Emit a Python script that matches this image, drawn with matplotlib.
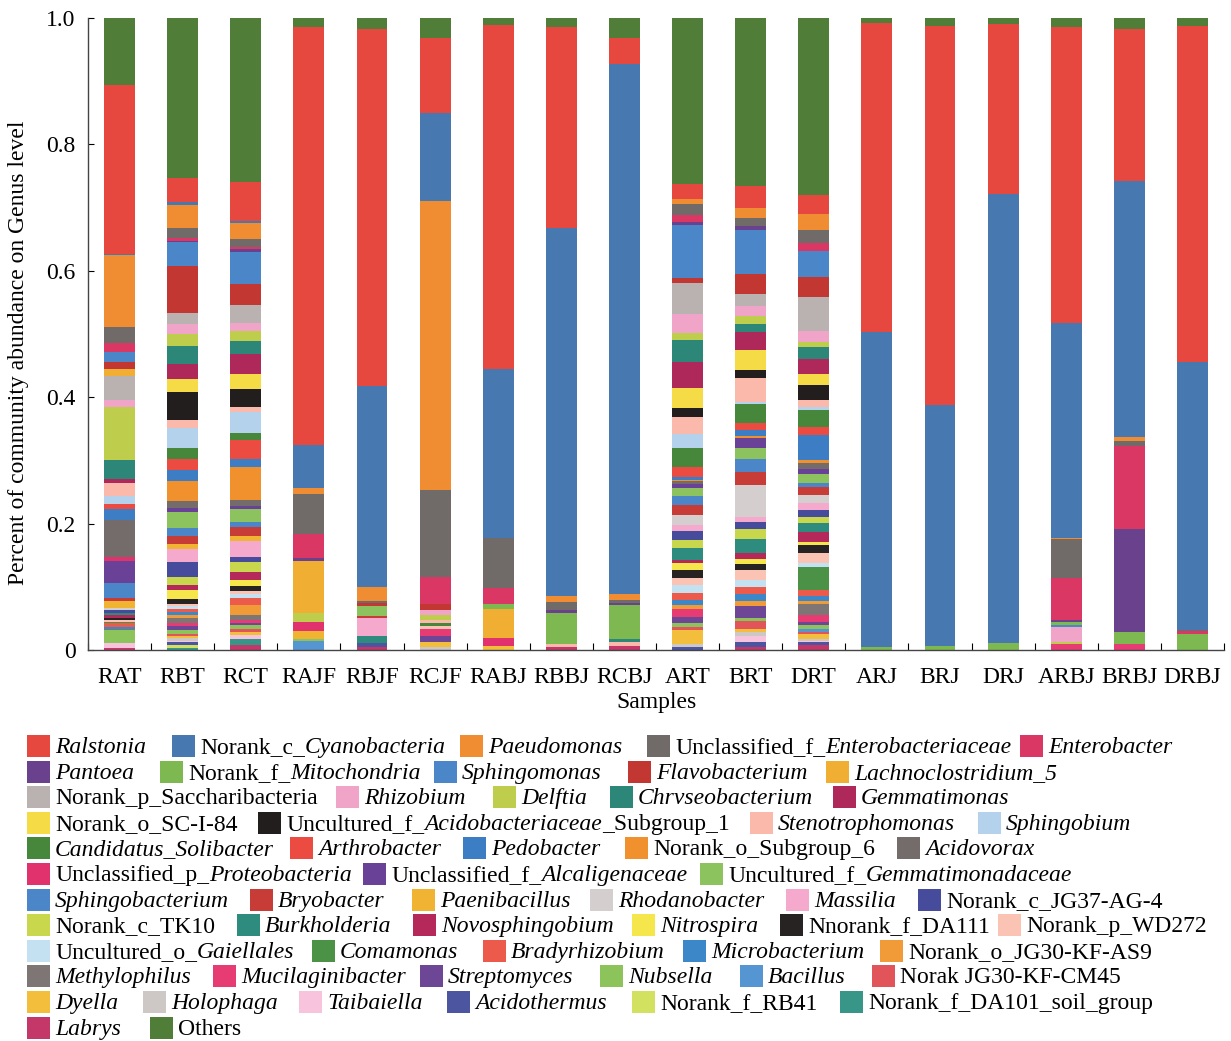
import numpy as np
import matplotlib.pyplot as plt
from matplotlib.patches import Rectangle

plt.rcParams['font.family'] = ['Liberation Serif', 'DejaVu Serif']
plt.rcParams['font.size'] = 17

W, H = 1231, 1041

samples = ['RAT', 'RBT', 'RCT', 'RAJF', 'RBJF', 'RCJF', 'RABJ', 'RBBJ', 'RCBJ',
           'ART', 'BRT', 'DRT', 'ARJ', 'BRJ', 'DRJ', 'ARBJ', 'BRBJ', 'DRBJ']

# *...* marks the italic part of a name
genera = ['*Ralstonia*', 'Norank_c_*Cyanobacteria*', '*Paeudomonas*',
          'Unclassified_f_*Enterobacteriaceae*', '*Enterobacter*',
          '*Pantoea*', 'Norank_f_*Mitochondria*', '*Sphingomonas*',
          '*Flavobacterium*', '*Lachnoclostridium_5*',
          'Norank_p_Saccharibacteria', '*Rhizobium*', '*Delftia*',
          '*Chrvseobacterium*', '*Gemmatimonas*',
          'Norank_o_SC-I-84', 'Uncultured_f_*Acidobacteriaceae*_Subgroup_1',
          '*Stenotrophomonas*', '*Sphingobium*',
          '*Candidatus_Solibacter*', '*Arthrobacter*', '*Pedobacter*',
          'Norank_o_Subgroup_6', '*Acidovorax*',
          'Unclassified_p_*Proteobacteria*', 'Unclassified_f_*Alcaligenaceae*',
          'Uncultured_f_*Gemmatimonadaceae*',
          '*Sphingobacterium*', '*Bryobacter*', '*Paenibacillus*',
          '*Rhodanobacter*', '*Massilia*', 'Norank_c_JG37-AG-4',
          'Norank_c_TK10', '*Burkholderia*', '*Novosphingobium*',
          '*Nitrospira*', 'Nnorank_f_DA111', 'Norank_p_WD272',
          'Uncultured_o_*Gaiellales*', '*Comamonas*', '*Bradyrhizobium*',
          '*Microbacterium*', 'Norank_o_JG30-KF-AS9',
          '*Methylophilus*', '*Mucilaginibacter*', '*Streptomyces*',
          '*Nubsella*', '*Bacillus*', 'Norak JG30-KF-CM45',
          '*Dyella*', '*Holophaga*', '*Taibaiella*', '*Acidothermus*',
          'Norank_f_RB41', 'Norank_f_DA101_soil_group',
          '*Labrys*', 'Others']

colors = ['#e64840', '#4878b0', '#f08c32', '#706a68', '#da3764',
          '#69418c', '#7db950', '#4b87c8', '#c33732', '#f0af32',
          '#b9b2b0', '#f0a5c8', '#becd4b', '#2d8778', '#af285a',
          '#f5dc46', '#231e1e', '#fab9aa', '#b4d2eb',
          '#46873c', '#eb4b41', '#3c7dc3', '#f0912d', '#736c6a',
          '#e1326e', '#694196', '#8cc35f',
          '#4b87c8', '#c83c37', '#f0b432', '#d4cfce', '#f5aacd', '#464b9b',
          '#c8d74b', '#2d8c7d', '#b4285a', '#f5e64b', '#282323', '#fac3b4',
          '#c3e1f0', '#4b9146', '#eb5a4b', '#3c87c8', '#f09b37',
          '#7d7674', '#e63c73', '#6e4696', '#8cc35a', '#5596d2', '#e1555a',
          '#f2be3c', '#cdc8c6', '#f8c3dc', '#4b55a0', '#d2e15f', '#379687',
          '#c33769', '#507d37']

# relative abundance per sample, in legend order (last value = Others)
RAT = [.267, .002, .114, .025, .014, 0, 0, .016, .012, .011,
       .038, .011, .084, .030, .005, 0, 0, .021, .013, 0,
       .008, .017, 0, .059, .006, .035, 0, .024, .004, .011,
       .003, 0, .006, 0, .003, .005, 0, .003, .003, 0,
       .002, .006, .002, 0, .002, 0, 0, .021, 0, 0,
       0, 0, .008, 0, 0, 0, .003, .106]
RBT = [.038, .005, .036, .016, .005, .002, 0, .038, .074, 0,
       .017, .016, .019, .028, .024, .020, .045, .013, .032, .016,
       .018, .018, .032, .011, 0, .005, .026, .012, .014, .007,
       0, .020, .024, .013, 0, .008, .015, .007, .004, .004,
       0, .005, .004, .006, .008, .004, .006, .006, 0, .004,
       .003, .004, .003, .004, .005, .003, 0, .253]
RCT = [.062, .004, .025, .012, .004, .004, 0, .051, .033, 0,
       .029, .013, .015, .020, .033, .023, .029, .007, .033, .012,
       .030, .013, .052, .009, 0, .005, .021, .007, .014, .008,
       0, .026, .008, .016, 0, .013, .009, .007, .005, .007,
       0, .011, 0, .016, .008, .004, .004, .006, 0, .005,
       .004, 0, .006, 0, 0, .010, .008, .259]
RAJF = [.661, .067, .010, .064, .037, .005, 0, 0, 0, .083,
        0, 0, .014, 0, 0, 0, 0, 0, 0, 0,
        0, 0, 0, 0, .014, 0, 0, 0, 0, .013,
        0, 0, 0, 0, 0, 0, 0, 0, 0, 0,
        0, 0, 0, 0, 0, 0, 0, .003, .014, 0,
        0, 0, 0, 0, 0, 0, 0, .015]
RBJF = [.566, .318, .021, .004, 0, 0, 0, 0, .004, 0,
        0, 0, 0, 0, 0, 0, 0, 0, 0, 0,
        0, 0, 0, 0, 0, 0, .016, 0, .003, 0,
        0, .029, 0, 0, .011, 0, 0, 0, 0, 0,
        0, 0, 0, 0, 0, 0, 0, 0, 0, 0,
        0, 0, 0, .006, 0, 0, .005, .017]
RCJF = [.119, .139, .458, .137, .043, 0, 0, 0, .009, 0,
        0, .009, .007, 0, 0, 0, 0, .005, 0, .005,
        0, 0, 0, 0, 0, 0, 0, 0, 0, 0,
        0, 0, 0, 0, 0, 0, 0, 0, .004, 0,
        0, 0, 0, 0, 0, .012, .009, 0, 0, 0,
        .009, .004, 0, 0, 0, 0, 0, .031]
RABJ = [.544, .267, 0, .080, .025, 0, .008, 0, 0, .046,
        0, 0, 0, 0, 0, 0, 0, 0, 0, 0,
        0, 0, 0, 0, .012, 0, 0, 0, 0, 0,
        0, 0, 0, 0, 0, 0, 0, 0, 0, 0,
        0, 0, 0, 0, 0, 0, 0, 0, 0, 0,
        .007, 0, 0, 0, 0, 0, 0, .011]
RBBJ = [.318, .582, .009, .013, 0, .005, .049, 0, 0, 0,
        0, 0, 0, 0, 0, 0, 0, .004, 0, 0,
        0, 0, 0, 0, 0, 0, 0, 0, 0, 0,
        0, 0, 0, 0, 0, 0, 0, 0, 0, 0,
        0, 0, 0, 0, 0, 0, 0, 0, 0, 0,
        0, 0, 0, 0, 0, 0, .005, .015]
RCBJ = [.041, .839, .009, .004, 0, .004, .054, 0, 0, 0,
        0, 0, 0, .004, 0, 0, 0, .007, 0, 0,
        0, 0, 0, 0, 0, 0, 0, 0, 0, 0,
        0, 0, 0, 0, 0, 0, 0, 0, 0, 0,
        0, 0, 0, 0, 0, 0, 0, 0, 0, 0,
        0, 0, 0, 0, 0, 0, .006, .032]
ART = [.025, 0, .008, .016, .011, .005, 0, .085, .007, 0,
       .050, .029, .012, .035, .040, .032, .015, .026, .023, .030,
       .016, .004, .002, .004, 0, .006, .013, .015, .016, 0,
       .016, .009, .014, .013, .018, .005, .011, .013, .011, .013,
       0, .011, .008, .006, 0, .012, .011, .005, 0, .006,
       .021, .005, 0, .005, 0, 0, 0, .262]
BRT = [.034, 0, .017, .012, 0, .006, 0, .070, .031, 0,
       .020, .016, .012, .013, .028, .032, .013, .037, .004, .030,
       .011, .009, .003, 0, 0, .017, .017, .020, .021, 0,
       .051, .008, .011, .015, .023, .009, .008, .009, .016, .011,
       0, .012, .011, .008, 0, 0, .018, .005, 0, .013,
       .005, .006, .009, .009, 0, 0, .004, .266]
DRT = [.030, 0, .026, .020, .012, 0, 0, .042, .032, 0,
       .054, .016, .009, .018, .025, .017, .023, .012, .005, .026,
       .013, .039, .005, .009, 0, .008, .015, .006, .013, 0,
       .013, .011, .011, .009, .014, .016, .005, .012, .017, .005,
       .037, .009, .009, .005, .016, .011, .006, .006, .004, .004,
       .007, .003, .002, .005, 0, 0, .008, .280]
ARJ = [.489, .499, 0, 0, 0, 0, .004] + [0] * 50 + [.008]
BRJ = [.599, .382, 0, 0, 0, 0, .006] + [0] * 50 + [.013]
DRJ = [.268, .711, 0, 0, 0, 0, .011] + [0] * 50 + [.010]
ARBJ = [.469, .339, .002, .062, .066, .003, .005, .003, 0, 0,
        0, .025, .003, 0, 0, 0, 0, 0, 0, 0,
        0, 0, 0, 0, 0, 0, 0, 0, 0, 0,
        0, 0, 0, 0, 0, 0, 0, 0, 0, 0,
        0, 0, 0, 0, 0, .009, 0, 0, 0, 0,
        0, 0, 0, 0, 0, 0, 0, .014]
BRBJ = [.241, .405, .006, .008, .132, .162, .020] + [0] * 38 + [.009] + [0] * 11 + [.017]
DRBJ = [.532, .424, 0, .002, .004, 0, .026] + [0] * 50 + [.012]

abundance = np.array([RAT, RBT, RCT, RAJF, RBJF, RCJF, RABJ, RBBJ, RCBJ,
                      ART, BRT, DRT, ARJ, BRJ, DRJ, ARBJ, BRBJ, DRBJ])

# legend layout: genus indices per row, and left edge (px) of each swatch
legend_rows = [[0, 1, 2, 3, 4], [5, 6, 7, 8, 9], [10, 11, 12, 13, 14],
               [15, 16, 17, 18], [19, 20, 21, 22, 23], [24, 25, 26],
               [27, 28, 29, 30, 31, 32], [33, 34, 35, 36, 37, 38],
               [39, 40, 41, 42, 43], [44, 45, 46, 47, 48, 49],
               [50, 51, 52, 53, 54, 55], [56, 57]]
legend_x = [[27, 172, 460, 647, 1020], [27, 160, 434, 628, 826],
            [27, 336, 493, 610, 833], [27, 258, 750, 978],
            [27, 290, 463, 625, 897], [27, 363, 700],
            [27, 250, 412, 590, 786, 918], [27, 237, 413, 632, 780, 995],
            [27, 312, 483, 683, 880], [27, 213, 420, 600, 740, 872],
            [27, 143, 299, 447, 632, 840], [27, 150]]

fig = plt.figure(figsize=(W / 100, H / 100), dpi=100)
ax = fig.add_axes([88 / W, 1 - 650 / H, 1136 / W, 632 / H])

x = np.arange(len(samples))
bottom = np.zeros(len(samples))
n = len(genera)
# stack from the last legend entry upwards, Others on top
order = list(range(n - 2, -1, -1)) + [n - 1]
for i in order:
    ax.bar(x, abundance[:, i], 0.49, bottom=bottom, color=colors[i], linewidth=0)
    bottom += abundance[:, i]

ax.set_xlim(-0.5, len(samples) - 0.5)
ax.set_ylim(0, 1.0)
ax.set_xticks(x)
ax.set_xticklabels(samples)
ax.set_xticks(np.arange(-0.5, len(samples), 1), minor=True)
ax.tick_params(axis='x', which='major', length=0, pad=12)
ax.tick_params(axis='x', which='minor', direction='in', length=5, width=0.8)
ax.set_yticks([0, 0.2, 0.4, 0.6, 0.8, 1.0])
ax.set_yticklabels(['0', '0.2', '0.4', '0.6', '0.8', '1.0'])
ax.tick_params(axis='y', direction='in', length=4, width=0.8, pad=9)
for s in ['top', 'right']:
    ax.spines[s].set_visible(False)
for s in ['left', 'bottom']:
    ax.spines[s].set_color('#444444')
    ax.spines[s].set_linewidth(1.0)

ax.set_xlabel('Samples')
ax.set_ylabel('Percent of community abundance on Genus level')
ax.xaxis.set_label_coords(0.5, -0.066)
ax.yaxis.set_label_coords(-0.052, 0.47)

# flowing legend with mixed roman / italic names
renderer = fig.canvas.get_renderer()
for r, (row, xs) in enumerate(zip(legend_rows, legend_x)):
    yc = 746 + 25.6 * r
    prev_end = 0
    for gi, x0 in zip(row, xs):
        x0 = max(x0, prev_end + 8)
        fig.add_artist(Rectangle((x0 / W, 1 - (yc + 11) / H), 23 / W, 22 / H,
                                 transform=fig.transFigure, color=colors[gi],
                                 linewidth=0))
        xt = x0 + 28
        for k, seg in enumerate(genera[gi].split('*')):
            if not seg:
                continue
            t = fig.text(xt / W, 1 - (yc + 7) / H, seg, ha='left', va='baseline',
                         style='italic' if k % 2 else 'normal', fontsize=17)
            xt += t.get_window_extent(renderer).width
        prev_end = xt

fig.savefig('out.png', dpi=100)
